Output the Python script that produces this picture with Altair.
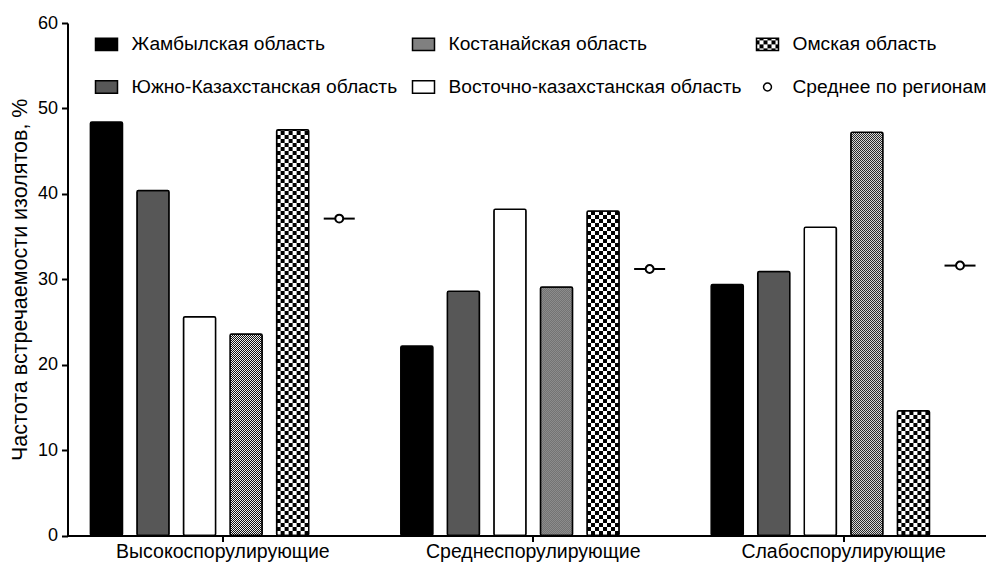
import altair as alt
import pandas as pd
import jinja2

# ---------------- data ----------------
groups = ["Высокоспорулирующие", "Среднеспорулирующие", "Слабоспорулирующие"]
bar_order = ["Жамбылская область", "Южно-Казахстанская область",
             "Восточно-казахстанская область", "Костанайская область",
             "Омская область", "Среднее по регионам"]
# legend is filled column by column (3 columns x 2 rows)
legend_order = ["Жамбылская область", "Южно-Казахстанская область",
                "Костанайская область", "Восточно-казахстанская область",
                "Омская область", "Среднее по регионам"]
zhambyl = [48.4, 22.2, 29.4]
yuko = [40.4, 28.6, 30.9]
vko = [25.6, 38.2, 36.1]
kostanay = [23.6, 29.1, 47.2]
omsk = [47.5, 38.0, 14.6]
mean_reg = [37.1, 31.2, 31.6]
y_ticks = [0, 10, 20, 30, 40, 50, 60]

series_values = [zhambyl, yuko, vko, kostanay, omsk, mean_reg]
rows = []
for name, vals in zip(bar_order, series_values):
    for g, v in zip(groups, vals):
        rows.append({"group": g, "series": name, "value": v})
df = pd.DataFrame(rows)
MEAN = "Среднее по регионам"

fill_range = ["black", "#575757", "url(#kost)", "white", "url(#omsk)", "white"]
RECT = "M-1,-0.56H1V0.56H-1Z"
CIRC = "M-0.36,0A0.36,0.36 0 1,0 0.36,0A0.36,0.36 0 1,0 -0.36,0Z"
shape_range = [RECT, RECT, RECT, RECT, RECT, CIRC]

x_enc = alt.X("group:N", sort=groups, title=None,
              scale=alt.Scale(paddingInner=0.1, paddingOuter=0.0296, align=0.853),
              axis=alt.Axis(labelAngle=0, labelFontSize=19.5, tickSize=6, tickWidth=2,
                            domainWidth=2, labelPadding=1, labelLimit=0))
xo_enc = alt.XOffset("series:N",
                     scale=alt.Scale(domain=bar_order, paddingInner=0.31, paddingOuter=0.155))
y_enc = alt.Y("value:Q", title="Частота встречаемости изолятов, %",
              scale=alt.Scale(domain=[0, 60], nice=False),
              axis=alt.Axis(values=y_ticks, labelFontSize=18, tickSize=6, tickWidth=2,
                            domainWidth=2, labelPadding=4, titleFontSize=21.5,
                            titleFontWeight="normal", titlePadding=6, grid=False))
legend_kw = dict(orient="none", legendX=27, legendY=9, columns=3,
                 symbolSize=484, labelFontSize=19.2, labelOffset=13, labelLimit=0,
                 columnPadding=12, rowPadding=20, padding=0,
                 symbolStrokeColor="black", symbolStrokeWidth=1.5, labelColor="black")
fill_enc = alt.Fill("series:N", title=None,
                    scale=alt.Scale(domain=legend_order, range=fill_range),
                    legend=alt.Legend(**legend_kw))
shape_enc = alt.Shape("series:N", title=None,
                      scale=alt.Scale(domain=legend_order, range=shape_range),
                      legend=alt.Legend(**legend_kw))

base = alt.Chart(df)
bars = base.transform_filter(alt.datum.series != MEAN).mark_bar(
    stroke="black", strokeWidth=1.5, cornerRadius=1.5
).encode(x=x_enc, xOffset=xo_enc, y=y_enc, fill=fill_enc)

means = base.transform_filter(alt.datum.series == MEAN)
mean_tick = means.mark_tick(color="black", thickness=2, size=31, orient="horizontal",
                            opacity=1).encode(x=x_enc, xOffset=xo_enc, y=y_enc)
mean_pt = means.mark_point(filled=True, stroke="black", strokeWidth=2, size=484,
                           opacity=1).encode(x=x_enc, xOffset=xo_enc, y=y_enc,
                                             fill=fill_enc, shape=shape_enc)

chart = alt.layer(bars, mean_tick, mean_pt).properties(
    width=918.5, height=512.5,
    autosize=alt.AutoSizeParams(type="none"),
    padding={"left": 59.5, "top": 15, "right": 8, "bottom": 27},
).configure(font="Liberation Sans").configure_view(stroke=None).configure_axis(
    domainColor="black", tickColor="black", labelColor="black", titleColor="black",
    labelFont="Liberation Sans", titleFont="Liberation Sans"
).configure_legend(labelFont="Liberation Sans")

TEMPLATE = jinja2.Template("""<!DOCTYPE html>
<html>
<head>
  <meta charset="utf-8">
  <style>
    #{{ output_div }}.vega-embed details,
    #{{ output_div }}.vega-embed details summary { position: relative; }
  </style>
  <script type="text/javascript" src="{{ base_url }}/vega@{{ vega_version }}"></script>
  <script type="text/javascript" src="{{ base_url }}/vega-lite@{{ vegalite_version }}"></script>
  <script type="text/javascript" src="{{ base_url }}/vega-embed@{{ vegaembed_version }}"></script>
</head>
<body>
  <svg width="0" height="0" style="position:absolute" aria-hidden="true">
    <defs>
      <pattern id="kost" patternUnits="userSpaceOnUse" width="2" height="2">
        <rect width="2" height="2" fill="#ffffff"/>
        <rect width="1" height="1" fill="#000000"/>
        <rect x="1" y="1" width="1" height="1" fill="#000000"/>
      </pattern>
      <pattern id="omsk" patternUnits="userSpaceOnUse" width="8" height="8">
        <rect width="8" height="8" fill="#ffffff"/>
        <rect width="4" height="4" fill="#000000"/>
        <rect x="4" y="4" width="4" height="4" fill="#000000"/>
      </pattern>
    </defs>
  </svg>
  <div id="{{ output_div }}"></div>
  <script type="text/javascript">
    (function(vegaEmbed) {
      var spec = {{ spec }};
      var embedOpt = {{ embed_options }};
      function showError(el, error){
        el.innerHTML = ('<div style="color:red;"><p>JavaScript Error: ' + error.message + '</p></div>');
        throw error;
      }
      const el = document.getElementById('{{ output_div }}');
      vegaEmbed("#{{ output_div }}", spec, embedOpt).catch(error => showError(el, error));
    })(vegaEmbed);
  </script>
</body>
</html>
""")

chart.save("out.html", embed_options={"renderer": "svg", "actions": False}, template=TEMPLATE)
